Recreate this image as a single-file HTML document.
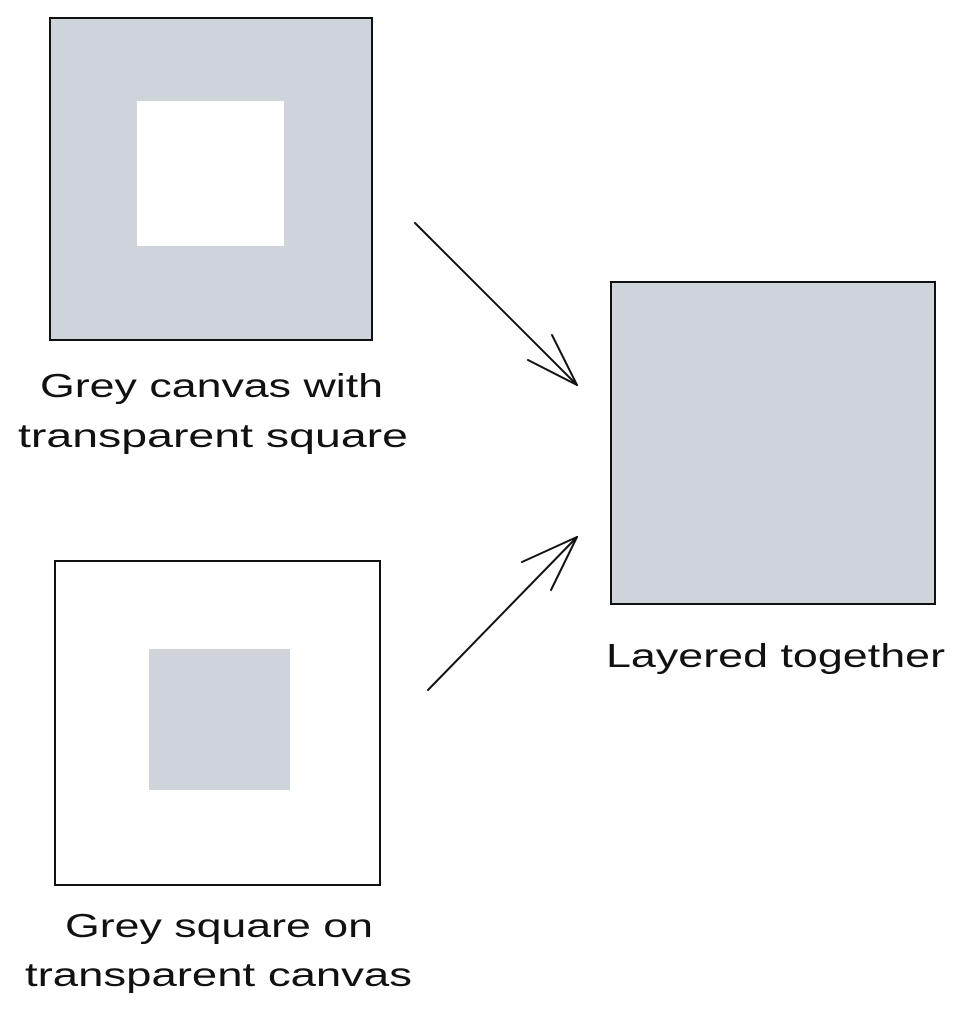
<!DOCTYPE html>
<html><head><meta charset="utf-8"><style>
html,body{margin:0;padding:0;background:#fff;}
svg{display:block;}
text{font-family:"Liberation Sans",sans-serif;font-size:33px;fill:#111;}
</style></head><body>
<svg width="966" height="1022" viewBox="0 0 966 1022">
  <g>
    <rect x="50" y="18" width="322" height="322" fill="#ced4da" stroke="#111" stroke-width="2"/>
    <rect x="137" y="101" width="147" height="145" fill="#fff"/>
  </g>
  <text x="40" y="397" textLength="343" lengthAdjust="spacingAndGlyphs">Grey canvas with</text>
  <text x="18" y="447" textLength="390" lengthAdjust="spacingAndGlyphs">transparent square</text>

  <g>
    <rect x="55" y="561" width="325" height="324" fill="#fff" stroke="#111" stroke-width="2"/>
    <rect x="149" y="649" width="141" height="141" fill="#ced4da"/>
  </g>
  <text x="65" y="937" textLength="308" lengthAdjust="spacingAndGlyphs">Grey square on</text>
  <text x="25" y="986" textLength="387" lengthAdjust="spacingAndGlyphs">transparent canvas</text>

  <rect x="611" y="282" width="324" height="322" fill="#ced4da" stroke="#111" stroke-width="2"/>
  <text x="606" y="667" textLength="339" lengthAdjust="spacingAndGlyphs">Layered together</text>

  <g fill="none" stroke="#111" stroke-width="2" stroke-linecap="round">
    <path d="M415 223 L577 385"/>
    <path d="M577 385 L528 360 M577 385 L552 335"/>
  </g>
  <g fill="none" stroke="#111" stroke-width="2" stroke-linecap="round">
    <path d="M428 690 L577 537"/>
    <path d="M577 537 L522 562 M577 537 L551 590"/>
  </g>
</svg>
</body></html>
